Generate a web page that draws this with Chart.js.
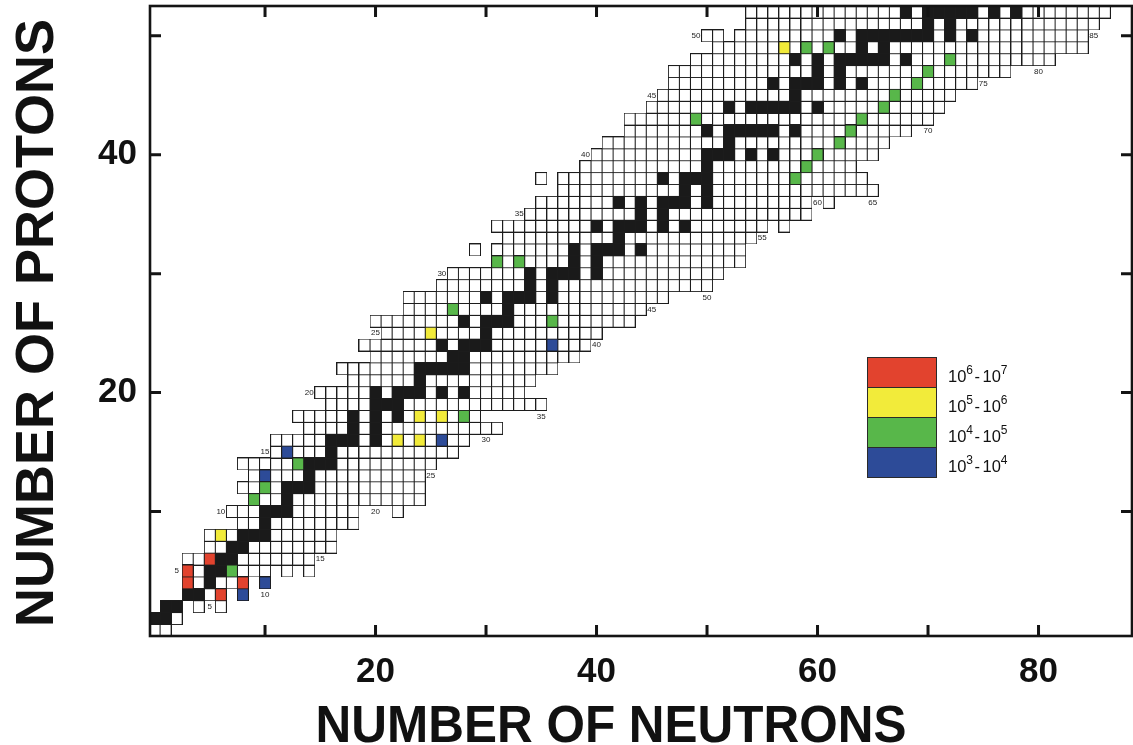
<!DOCTYPE html>
<html>
<head>
<meta charset="utf-8">
<script src="https://cdn.jsdelivr.net/npm/chart.js@4.4.1/dist/chart.umd.min.js"></script>
<style>
  html, body { margin: 0; padding: 0; background: #fff; }
  canvas { display: block; }
</style>
</head>
<body>
<canvas id="c" width="1133" height="745"></canvas>
<script>
// ---------------- DATA ----------------
// Known nuclides per proton number: [Z, N from, N to]
const knownSegments = [
  [0,0,1],[1,0,2],[2,1,2],[2,4,4],[2,6,6],[3,3,6],[3,8,8],[4,3,8],[4,10,10],
  [5,3,10],[5,12,12],[5,14,14],[6,3,14],[7,5,16],[8,5,16],[9,8,18],[10,7,18],[10,22,22],
  [11,9,24],[12,8,24],[13,9,24],[14,8,25],[15,11,27],[16,11,28],[17,14,31],[18,13,29],
  [19,16,35],[20,15,33],[21,18,34],[22,17,36],[23,20,38],[24,19,39],[25,21,40],[26,20,43],
  [27,23,44],[28,23,46],[29,26,50],[30,27,51],[31,31,53],[32,29,29],[32,31,53],[33,32,54],
  [34,31,55],[34,57,57],[35,34,59],[36,35,59],[36,61,61],[37,37,65],[38,35,35],[38,37,64],
  [39,39,63],[40,40,65],[41,41,66],[42,43,68],[43,43,70],[44,45,71],[45,46,72],[46,47,74],
  [47,47,77],[48,49,81],[49,51,84],[50,50,51],[50,53,84],[51,54,85],[52,54,86]
];
// Stable nuclides: [Z, [N...]]
const stableRows = [
  [1,[0,1]],[2,[1,2]],[3,[3,4]],[4,[5]],[5,[5,6]],[6,[6,7]],[7,[7,8]],[8,[8,9,10]],
  [9,[10]],[10,[10,11,12]],[11,[12]],[12,[12,13,14]],[13,[14]],[14,[14,15,16]],[15,[16]],
  [16,[16,17,18,20]],[17,[18,20]],[18,[18,20,22]],[19,[20,21,22]],[20,[20,22,23,24,26,28]],
  [21,[24]],[22,[24,25,26,27,28]],[23,[27,28]],[24,[26,28,29,30]],[25,[30]],[26,[28,30,31,32]],
  [27,[32]],[28,[30,32,33,34,36]],[29,[34,36]],[30,[34,36,37,38,40]],[31,[38,40]],
  [32,[38,40,41,42,44]],[33,[42]],[34,[40,42,43,44,46,48]],[35,[44,46]],[36,[42,44,46,47,48,50]],
  [37,[48,50]],[38,[46,48,49,50]],[39,[50]],[40,[50,51,52,54,56]],[41,[52]],
  [42,[50,52,53,54,55,56,58]],[44,[52,54,55,56,57,58,60]],[45,[58]],[46,[56,58,59,60,62,64]],
  [47,[60,62]],[48,[58,60,62,63,64,65,66,68]],[49,[64,66]],[50,[62,64,65,66,67,68,69,70,72,74]],
  [51,[70,72]],[52,[68,70,71,72,73,74,76,78]]
];
// Coloured nuclides: [N, Z]
const range67 = [[3,4],[3,5],[5,6],[6,3],[8,4]];
const range56 = [[6,8],[22,16],[24,16],[24,18],[26,18],[25,25],[57,49]];
const range45 = [[7,5],[9,11],[10,12],[13,14],[28,18],[27,27],[36,26],[31,31],[33,31],[49,43],
  [58,38],[59,39],[60,40],[62,41],[63,42],[64,43],[66,44],[67,45],[69,46],[70,47],[72,48],[59,49],[61,49]];
const range34 = [[8,3],[10,4],[10,13],[12,15],[26,16],[36,24]];

// Neutron-number labels in the chart: [N, Z, text]
const neutronLabels = [[5,2,'5'],[10,3,'10'],[15,6,'15'],[20,10,'20'],[25,13,'25'],[30,16,'30'],
  [35,18,'35'],[40,24,'40'],[45,27,'45'],[50,28,'50'],[55,33,'55'],[60,36,'60'],[65,36,'65'],
  [70,42,'70'],[75,46,'75'],[80,47,'80'],[85,50,'85']];
// Proton-number labels in the chart: [N, Z, text]
const protonLabels = [[2,5,'5'],[6,10,'10'],[10,15,'15'],[14,20,'20'],[20,25,'25'],[26,30,'30'],
  [33,35,'35'],[39,40,'40'],[45,45,'45'],[49,50,'50']];

const xTickMarks = [10,20,30,40,50,60,70,80];
const xTickLabels = [20,40,60,80];
const yTickMarks = [10,20,30,40,50];
const yTickLabels = [20,40];

const legendLabels = [['6','7'],['5','6'],['4','5'],['3','4']];
const legendColors = ['#e2432e','#f2eb3a','#58b74a','#2d4b98'];

// ---------------- BUILD ----------------
const whitePts = [];
for (const [z, a, b] of knownSegments) for (let n = a; n <= b; n++) whitePts.push({x: n, y: z});
const blackPts = [];
for (const [z, ns] of stableRows) for (const n of ns) blackPts.push({x: n, y: z});
const toPts = arr => arr.map(([n, z]) => ({x: n, y: z}));

const cache = {};
function cellImage(chart, fill) {
  const xs = chart.scales.x, ys = chart.scales.y;
  if (!xs || !ys) return 'rect';
  const w = Math.abs(xs.getPixelForValue(1) - xs.getPixelForValue(0));
  const h = Math.abs(ys.getPixelForValue(1) - ys.getPixelForValue(0));
  const W = Math.round(w) + 1, H = Math.round(h) + 1;
  const key = fill + '_' + W + '_' + H;
  if (cache[key]) return cache[key];
  const c = document.createElement('canvas');
  c.width = W; c.height = H;
  const g = c.getContext('2d');
  g.fillStyle = fill; g.fillRect(0, 0, W, H);
  g.strokeStyle = '#1c1c1c'; g.lineWidth = 1;
  g.strokeRect(0.5, 0.5, W - 1, H - 1);
  cache[key] = c;
  return c;
}
function ds(label, data, fill) {
  return {
    label, data, clip: 0,
    pointRadius: 5, pointHoverRadius: 5,
    pointStyle: ctx => cellImage(ctx.chart, fill),
    backgroundColor: fill, borderColor: '#1c1c1c'
  };
}

const FONT = '"Liberation Sans", Arial, Helvetica, sans-serif';

const overlay = {
  id: 'overlay',
  afterDraw(chart) {
    const {ctx, chartArea: a, scales: {x, y}} = chart;
    ctx.save();
    // small labels
    ctx.fillStyle = '#222';
    ctx.font = '8px ' + FONT;
    ctx.textAlign = 'center';
    ctx.textBaseline = 'middle';
    for (const [n, z, t] of neutronLabels) ctx.fillText(t, x.getPixelForValue(n), y.getPixelForValue(z));
    for (const [n, z, t] of protonLabels) ctx.fillText(t, x.getPixelForValue(n), y.getPixelForValue(z));

    // frame and inward ticks
    ctx.strokeStyle = '#141414';
    ctx.lineWidth = 2.6;
    ctx.strokeRect(a.left, a.top, a.right - a.left, a.bottom - a.top);
    ctx.lineWidth = 3;
    ctx.beginPath();
    for (const v of xTickMarks) {
      const px = x.getPixelForValue(v);
      ctx.moveTo(px, a.bottom); ctx.lineTo(px, a.bottom - 11);
      ctx.moveTo(px, a.top); ctx.lineTo(px, a.top + 11);
    }
    for (const v of yTickMarks) {
      const py = y.getPixelForValue(v);
      ctx.moveTo(a.left, py); ctx.lineTo(a.left + 11, py);
      ctx.moveTo(a.right, py); ctx.lineTo(a.right - 11, py);
    }
    ctx.stroke();

    // legend
    const lx = 867, ly = 357, lw = 69, lh = 30;
    legendColors.forEach((col, i) => {
      ctx.fillStyle = col;
      ctx.fillRect(lx, ly + i * lh, lw, lh);
    });
    ctx.strokeStyle = '#2a2a2a';
    ctx.lineWidth = 1;
    legendColors.forEach((col, i) => ctx.strokeRect(lx + 0.5, ly + i * lh + 0.5, lw, lh));
    ctx.fillStyle = '#111';
    ctx.textAlign = 'left';
    ctx.textBaseline = 'alphabetic';
    legendLabels.forEach(([e1, e2], i) => {
      let tx = 948;
      const by = ly + i * lh + 24.5;
      const parts = [['10', 0, 16.5], [e1, 1, 12], ['-', 0, 16.5], ['10', 0, 16.5], [e2, 1, 12]];
      parts.forEach(([t, sup, sz], k) => {
        ctx.font = sz + 'px ' + FONT;
        if (k === 2) tx += 1.5;
        if (k === 3) tx += 2.5;
        ctx.fillText(t, tx, sup ? by - 8 : by);
        tx += ctx.measureText(t).width;
      });
    });

    // axis titles
    ctx.fillStyle = '#111';
    ctx.textAlign = 'center';
    ctx.textBaseline = 'alphabetic';
    ctx.save();
    ctx.font = 'bold 51px ' + FONT;
    ctx.translate(611, 742);
    ctx.scale(0.97, 1);
    ctx.fillText('NUMBER OF NEUTRONS', 0, 0);
    ctx.restore();
    ctx.save();
    ctx.font = 'bold 54px ' + FONT;
    ctx.translate(53, 323);
    ctx.rotate(-Math.PI / 2);
    ctx.fillText('NUMBER OF PROTONS', 0, 0);
    ctx.restore();
    ctx.restore();
  }
};

new Chart(document.getElementById('c'), {
  type: 'scatter',
  data: {
    // first dataset is drawn on top, so coloured cells come first and white cells last
    datasets: [
      ds('1e6-1e7', toPts(range67), legendColors[0]),
      ds('1e5-1e6', toPts(range56), legendColors[1]),
      ds('1e4-1e5', toPts(range45), legendColors[2]),
      ds('1e3-1e4', toPts(range34), legendColors[3]),
      ds('stable', blackPts, '#1a1a1a'),
      ds('known', whitePts, '#ffffff')
    ]
  },
  options: {
    responsive: false,
    animation: false,
    devicePixelRatio: 1,
    layout: { autoPadding: false, padding: { top: 6, right: 1, left: 0, bottom: 0 } },
    plugins: { legend: { display: false }, tooltip: { enabled: false } },
    events: [],
    scales: {
      x: {
        type: 'linear', min: -0.41, max: 88.46,
        afterFit: s => { s.height = 109; s.paddingLeft = 0; s.paddingRight = 0; },
        afterBuildTicks: s => { s.ticks = xTickMarks.map(v => ({value: v})); },
        grid: { display: false, drawTicks: false },
        border: { display: false },
        ticks: {
          autoSkip: false, maxRotation: 0, minRotation: 0, padding: 15, color: '#111',
          font: { family: FONT, size: 35, weight: 'bold' },
          callback: v => xTickLabels.includes(v) ? String(v) : ''
        }
      },
      y: {
        type: 'linear', min: -0.47, max: 52.51,
        afterFit: s => { s.width = 150; s.paddingTop = 0; s.paddingBottom = 0; },
        afterBuildTicks: s => { s.ticks = yTickMarks.map(v => ({value: v})); },
        grid: { display: false, drawTicks: false },
        border: { display: false },
        ticks: {
          autoSkip: false, padding: 13, color: '#111',
          font: { family: FONT, size: 35, weight: 'bold' },
          callback: v => yTickLabels.includes(v) ? String(v) : ''
        }
      }
    }
  },
  plugins: [overlay]
});
</script>
</body>
</html>
